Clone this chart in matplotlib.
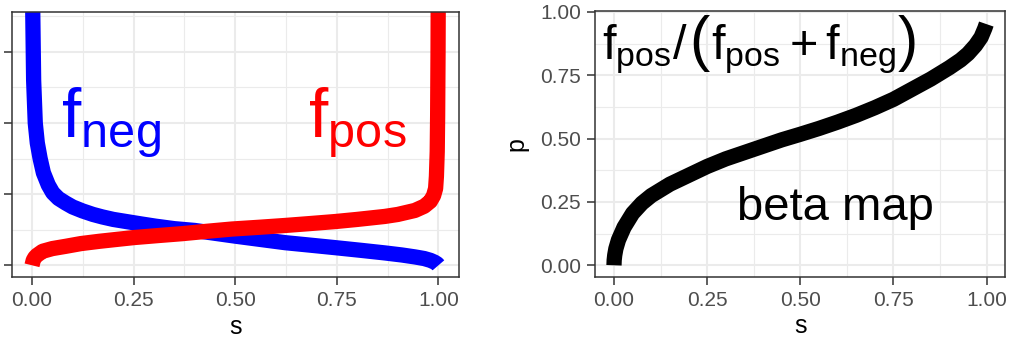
import matplotlib.pyplot as plt
from matplotlib.ticker import FixedLocator
from matplotlib.offsetbox import TextArea, HPacker, AnchoredOffsetbox

plt.rcParams["font.family"] = "Liberation Sans"
plt.rcParams["mathtext.fontset"] = "custom"
plt.rcParams["mathtext.rm"] = "Liberation Sans"
plt.rcParams["mathtext.it"] = "Liberation Sans"

# class-conditional score densities
s_neg = [0.0015, 0.004, 0.008, 0.013, 0.020, 0.028, 0.04, 0.051, 0.065, 0.083,
         0.10, 0.124, 0.15, 0.173, 0.20, 0.243, 0.27, 0.304, 0.35, 0.40,
         0.45, 0.50, 0.56, 0.623, 0.685, 0.746, 0.81, 0.868, 0.91, 0.942,
         0.965, 0.98, 0.99, 0.997, 1.0]
f_neg = [3.7, 2.6, 2.0, 1.72, 1.50, 1.30, 1.13, 1.02, 0.94, 0.875,
         0.82, 0.765, 0.715, 0.68, 0.645, 0.605, 0.58, 0.55, 0.515, 0.49,
         0.45, 0.41, 0.365, 0.318, 0.283, 0.248, 0.21, 0.174, 0.145, 0.118,
         0.095, 0.07, 0.045, 0.02, 0.0]

s_pos = [0.0, 0.003, 0.007, 0.012, 0.026, 0.05, 0.083, 0.12, 0.165, 0.21,
         0.251, 0.31, 0.37, 0.43, 0.492, 0.56, 0.623, 0.68, 0.746, 0.80,
         0.868, 0.90, 0.942, 0.965, 0.98, 0.988, 0.993, 0.995, 0.997, 0.998,
         0.999, 0.9995]
f_pos = [0.0, 0.07, 0.11, 0.14, 0.197, 0.235, 0.267, 0.305, 0.337, 0.365,
         0.39, 0.418, 0.445, 0.478, 0.51, 0.535, 0.56, 0.585, 0.615, 0.645,
         0.687, 0.715, 0.771, 0.83, 0.90, 0.98, 1.08, 1.25, 1.6, 2.1,
         3.0, 3.8]

# calibration map p = f_pos / (f_pos + f_neg)
s_map = [0.0, 0.0005, 0.002, 0.005, 0.012, 0.027, 0.05, 0.075, 0.1, 0.15,
         0.2, 0.25, 0.3, 0.35, 0.4, 0.45, 0.5, 0.55, 0.6, 0.65,
         0.7, 0.75, 0.8, 0.85, 0.9, 0.93, 0.95, 0.97, 0.985, 0.995, 0.999]
p_map = [0.0, 0.02, 0.04, 0.065, 0.10, 0.15, 0.205, 0.245, 0.275, 0.32,
         0.355, 0.39, 0.42, 0.445, 0.47, 0.495, 0.517, 0.54, 0.565, 0.592,
         0.622, 0.655, 0.695, 0.735, 0.78, 0.81, 0.835, 0.868, 0.9, 0.935, 0.952]

x_ticks = [0.0, 0.25, 0.5, 0.75, 1.0]
x_ticklabels = ["0.00", "0.25", "0.50", "0.75", "1.00"]
p_ticks = [0.0, 0.25, 0.5, 0.75, 1.0]
p_ticklabels = ["0.00", "0.25", "0.50", "0.75", "1.00"]
dens_ticks = [0, 1, 2, 3]

sColor_grid = "#EBEBEB"
sColor_axis = "#333333"
sColor_ticklabel = "#4D4D4D"
dLinewidth = 11


def style_axis(ax):
    for spine in ax.spines.values():
        spine.set_color(sColor_axis)
        spine.set_linewidth(1.1)
    ax.set_facecolor("white")
    ax.grid(which="major", color=sColor_grid, linewidth=1.5)
    ax.grid(which="minor", color=sColor_grid, linewidth=0.8)
    ax.set_axisbelow(True)
    ax.tick_params(which="major", direction="out", length=5.8, width=1.1,
                   color=sColor_axis, labelcolor=sColor_ticklabel, labelsize=15, pad=4.5)
    ax.tick_params(which="minor", length=0)


fig = plt.figure(figsize=(10.17, 3.45), dpi=100)
ax1 = fig.add_axes([0.0115, 0.197, 0.4396, 0.768])
ax2 = fig.add_axes([0.5854, 0.198, 0.4031, 0.769])

# densities
ax1.plot(s_neg, f_neg, color="#0000FF", linewidth=dLinewidth, solid_capstyle="butt", solid_joinstyle="round")
ax1.plot(s_pos, f_pos, color="#FF0000", linewidth=dLinewidth, solid_capstyle="butt", solid_joinstyle="round")
ax1.set_xlim(-0.05, 1.05)
ax1.set_ylim(-0.165, 3.56)
ax1.set_xticks(x_ticks)
ax1.set_xticklabels(x_ticklabels)
ax1.set_yticks(dens_ticks)
ax1.set_yticklabels([""] * len(dens_ticks))
ax1.xaxis.set_minor_locator(FixedLocator([0.125, 0.375, 0.625, 0.875]))
ax1.yaxis.set_minor_locator(FixedLocator([0.5, 1.5, 2.5, 3.5]))
style_axis(ax1)
ax1.set_xlabel("s", fontsize=18, labelpad=3)
ax1.text(0.072, 1.80, r"$\mathrm{f}_{\mathrm{neg}}$", color="#0000FF", fontsize=50,
         ha="left", va="baseline")
ax1.text(0.68, 1.80, r"$\mathrm{f}_{\mathrm{pos}}$", color="#FF0000", fontsize=50,
         ha="left", va="baseline")

# beta map
ax2.plot(s_map, p_map, color="black", linewidth=dLinewidth, solid_capstyle="butt", solid_joinstyle="round")
ax2.set_xlim(-0.05, 1.05)
ax2.set_ylim(-0.045, 1.002)
ax2.set_xticks(x_ticks)
ax2.set_xticklabels(x_ticklabels)
ax2.set_yticks(p_ticks)
ax2.set_yticklabels(p_ticklabels)
ax2.xaxis.set_minor_locator(FixedLocator([0.125, 0.375, 0.625, 0.875]))
ax2.yaxis.set_minor_locator(FixedLocator([0.125, 0.375, 0.625, 0.875]))
style_axis(ax2)
ax2.set_xlabel("s", fontsize=18, labelpad=3)
ax2.set_ylabel("p", fontsize=18, labelpad=8)

# formula with tall parentheses
formula_parts = [
    (r"$\mathrm{f}_{\mathrm{pos}}/$", 35),
    ("(", 44),
    (r"$\mathrm{f}_{\mathrm{pos}}+\mathrm{f}_{\mathrm{neg}}$", 35),
    (")", 44),
]
aBox = [TextArea(sText, textprops=dict(fontsize=iSize, color="black", fontweight="light"))
        for sText, iSize in formula_parts]
box = HPacker(children=aBox, align="baseline", pad=0, sep=1)
anchored = AnchoredOffsetbox(loc="upper left", child=box, pad=0, borderpad=0, frameon=False,
                             bbox_to_anchor=(0.017, 0.985), bbox_transform=ax2.transAxes)
ax2.add_artist(anchored)

ax2.text(0.33, 0.18, "beta map", color="black", fontsize=34, ha="left", va="baseline")

plt.savefig("out.png", dpi=100)
